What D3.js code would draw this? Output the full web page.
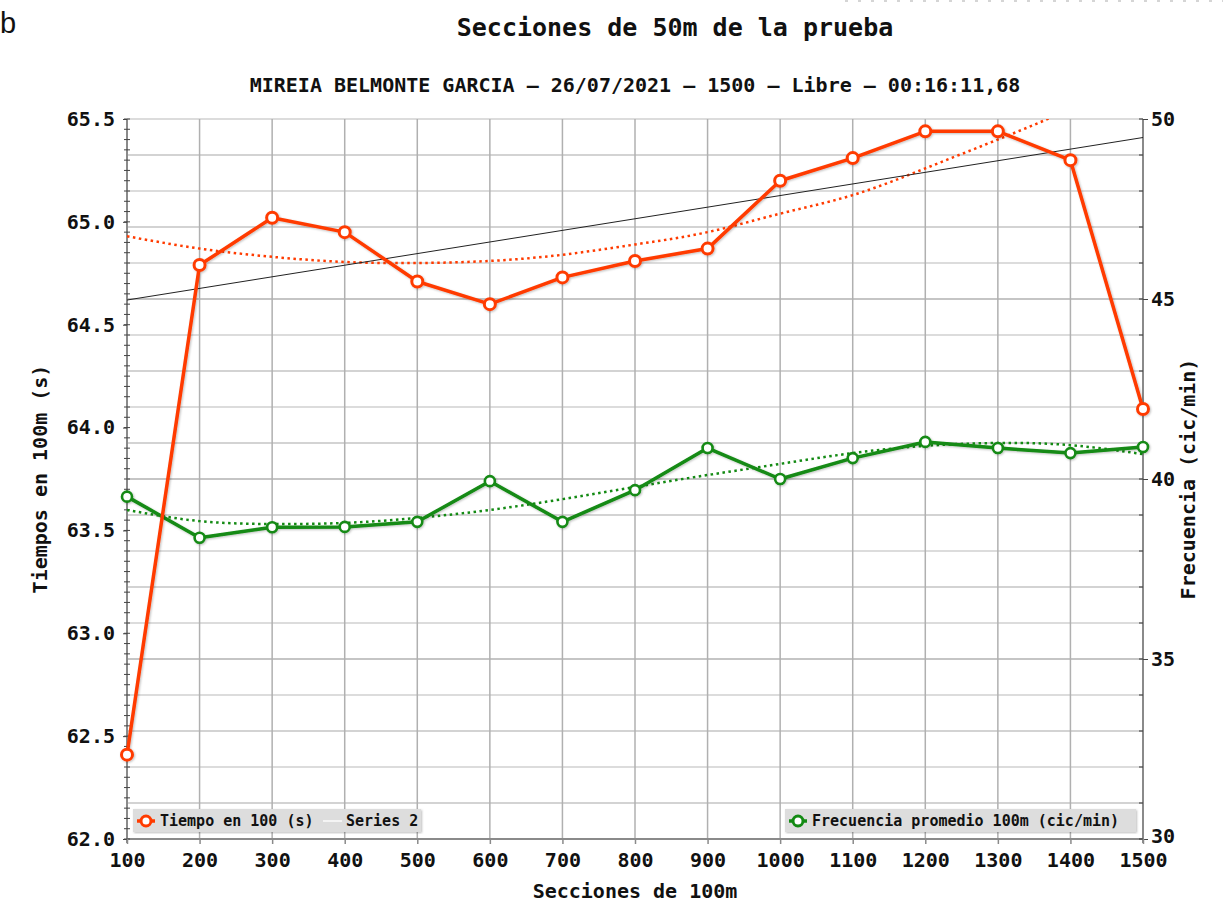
<!DOCTYPE html>
<html>
<head>
<meta charset="utf-8">
<script src="https://cdn.jsdelivr.net/npm/d3@7"></script>
<style>
body { margin: 0; background: #fff; }
svg { display: block; }
</style>
</head>
<body>
<div id="chart"></div>
<script>
// data
const sections = [100, 200, 300, 400, 500, 600, 700, 800, 900, 1000, 1100, 1200, 1300, 1400, 1500];
const tiempo = [62.41, 64.79, 65.02, 64.95, 64.71, 64.60, 64.73, 64.81, 64.87, 65.20, 65.31, 65.44, 65.44, 65.30, 64.09];
const frecuencia = [39.51, 38.37, 38.66, 38.67, 38.81, 39.94, 38.81, 39.69, 40.86, 40.00, 40.58, 41.03, 40.86, 40.72, 40.89];
const tiempoTrend = [64.93, 64.87, 64.83, 64.805, 64.80, 64.81, 64.84, 64.89, 64.95, 65.04, 65.13, 65.26, 65.40, 65.55, 65.73];
const frecuenciaTrend = [39.14, 38.83, 38.75, 38.78, 38.92, 39.14, 39.44, 39.78, 40.11, 40.42, 40.72, 40.92, 41.00, 40.94, 40.69];
const series2X = [100, 1500];
const series2 = [64.62, 65.41];
const leftTicks = [62.0, 62.5, 63.0, 63.5, 64.0, 64.5, 65.0, 65.5];
const rightTicks = [30, 35, 40, 45, 50];

const title = "Secciones de 50m de la prueba";
const subtitle = "MIREIA BELMONTE GARCIA \u2014 26/07/2021 \u2014 1500 \u2014 Libre \u2014 00:16:11,68";

const width = 1223;
const height = 907;
const plot = { left: 127, right: 1143, top: 119, bottom: 839 };
const mono = "'DejaVu Sans Mono', monospace";
const red = "#ff3b00";
const green = "#138a13";

const svg = d3.select("#chart").append("svg")
    .attr("width", width)
    .attr("height", height);

const xScale = d3.scaleLinear().domain([100, 1500]).range([plot.left, plot.right]);
const yLeft = d3.scaleLinear().domain([62, 65.5]).range([plot.bottom, plot.top]);
const yRight = d3.scaleLinear().domain([30, 50]).range([plot.bottom, plot.top]);

const defs = svg.append("defs");
defs.append("clipPath").attr("id", "plot-clip")
    .append("rect")
    .attr("x", plot.left).attr("y", plot.top)
    .attr("width", plot.right - plot.left).attr("height", plot.bottom - plot.top);
const shadow = defs.append("filter").attr("id", "shadow")
    .attr("x", "-5%").attr("y", "-5%").attr("width", "110%").attr("height", "110%");
shadow.append("feDropShadow")
    .attr("dx", 1).attr("dy", 1).attr("stdDeviation", 1.2)
    .attr("flood-color", "#000").attr("flood-opacity", 0.25);

// faint marks on the top edge
svg.append("line")
    .attr("x1", 845).attr("x2", width).attr("y1", 1).attr("y2", 1)
    .attr("stroke", "#c8c8c8").attr("stroke-width", 1.5)
    .attr("stroke-dasharray", "3,10");

// horizontal grid from the right axis units
const hGrid = d3.range(31, 51);
svg.append("g").selectAll("line")
    .data(hGrid)
    .enter().append("line")
    .attr("x1", plot.left).attr("x2", plot.right)
    .attr("y1", d => yRight(d)).attr("y2", d => yRight(d))
    .attr("stroke", d => d % 5 === 0 && d !== 50 ? "#8c8c8c" : (d % 2 === 1 ? "#a8a8a8" : "#dcdcdc"))
    .attr("stroke-width", d => (d % 2 === 1 || d === 40) ? 1.2 : 2.2);

// vertical grid
svg.append("g").selectAll("line")
    .data(sections.slice(1, -1))
    .enter().append("line")
    .attr("x1", d => xScale(d)).attr("x2", d => xScale(d))
    .attr("y1", plot.top).attr("y2", plot.bottom)
    .attr("stroke", "#b0b0b0")
    .attr("stroke-width", 1.5);

// axis lines
svg.append("line")
    .attr("x1", plot.left).attr("x2", plot.left).attr("y1", plot.top).attr("y2", plot.bottom + 4)
    .attr("stroke", "#8a8a8a").attr("stroke-width", 2);
svg.append("line")
    .attr("x1", plot.right).attr("x2", plot.right).attr("y1", plot.top).attr("y2", plot.bottom + 4)
    .attr("stroke", "#8a8a8a").attr("stroke-width", 2);
svg.append("line")
    .attr("x1", plot.left).attr("x2", plot.right).attr("y1", plot.bottom).attr("y2", plot.bottom)
    .attr("stroke", "#8a8a8a").attr("stroke-width", 2);

// left axis
const leftAxis = svg.append("g")
    .attr("transform", `translate(${plot.left},0)`)
    .call(d3.axisLeft(yLeft).tickValues(leftTicks).tickFormat(d3.format(".1f")).tickSize(4).tickPadding(8));
leftAxis.select(".domain").remove();
leftAxis.selectAll("line").attr("stroke", "#444");
leftAxis.selectAll("text")
    .attr("font-family", mono).attr("font-weight", "bold").attr("font-size", 20).attr("fill", "#111");
svg.append("g").selectAll("line")
    .data(d3.range(0, 71).map(i => 62 + i * 0.05))
    .enter().append("line")
    .attr("x1", plot.left - 3).attr("x2", plot.left + 3)
    .attr("y1", d => yLeft(d)).attr("y2", d => yLeft(d))
    .attr("stroke", "#444").attr("stroke-width", 1);

// right axis
const rightAxis = svg.append("g")
    .attr("transform", `translate(${plot.right},0)`)
    .call(d3.axisRight(yRight).tickValues(rightTicks).tickSize(5).tickPadding(3));
rightAxis.select(".domain").remove();
rightAxis.selectAll("line").attr("stroke", "#444");
rightAxis.selectAll("text")
    .attr("font-family", mono).attr("font-weight", "bold").attr("font-size", 20).attr("fill", "#111")
    .attr("y", d => d === 30 ? -3 : 0);
svg.append("g").selectAll("line")
    .data(d3.range(30, 51))
    .enter().append("line")
    .attr("x1", plot.right - 4).attr("x2", plot.right)
    .attr("y1", d => yRight(d)).attr("y2", d => yRight(d))
    .attr("stroke", "#333").attr("stroke-width", 1);

// bottom axis
const bottomAxis = svg.append("g")
    .attr("transform", `translate(0,${plot.bottom})`)
    .call(d3.axisBottom(xScale).tickValues(sections).tickFormat(d3.format("d")).tickSize(5).tickPadding(9));
bottomAxis.select(".domain").remove();
bottomAxis.selectAll("line").attr("stroke", "#8a8a8a").attr("stroke-width", 1.5);
bottomAxis.selectAll("text")
    .attr("font-family", mono).attr("font-weight", "bold").attr("font-size", 20).attr("fill", "#111");

// trend lines
const trendGroup = svg.append("g").attr("clip-path", "url(#plot-clip)");
trendGroup.append("path")
    .datum(sections.map((s, i) => [s, frecuenciaTrend[i]]))
    .attr("fill", "none")
    .attr("stroke", green)
    .attr("stroke-width", 2.5)
    .attr("stroke-dasharray", "2.5,3.5")
    .attr("d", d3.line().x(d => xScale(d[0])).y(d => yRight(d[1])).curve(d3.curveNatural));
trendGroup.append("path")
    .datum(sections.map((s, i) => [s, tiempoTrend[i]]))
    .attr("fill", "none")
    .attr("stroke", red)
    .attr("stroke-width", 2.5)
    .attr("stroke-dasharray", "2.5,3.5")
    .attr("d", d3.line().x(d => xScale(d[0])).y(d => yLeft(d[1])).curve(d3.curveNatural));
trendGroup.append("path")
    .datum(series2X.map((s, i) => [s, series2[i]]))
    .attr("fill", "none")
    .attr("stroke", "#222")
    .attr("stroke-width", 1)
    .attr("d", d3.line().x(d => xScale(d[0])).y(d => yLeft(d[1])));

// frecuencia series (right axis)
const greenG = svg.append("g").attr("filter", "url(#shadow)");
greenG.append("path")
    .datum(sections.map((s, i) => [s, frecuencia[i]]))
    .attr("fill", "none")
    .attr("stroke", green)
    .attr("stroke-width", 3.5)
    .attr("stroke-linejoin", "round")
    .attr("d", d3.line().x(d => xScale(d[0])).y(d => yRight(d[1])));
greenG.selectAll("circle")
    .data(sections.map((s, i) => [s, frecuencia[i]]))
    .enter().append("circle")
    .attr("cx", d => xScale(d[0]))
    .attr("cy", d => yRight(d[1]))
    .attr("r", 5)
    .attr("fill", "#fff")
    .attr("stroke", green)
    .attr("stroke-width", 2.6);

// tiempo series (left axis)
const redG = svg.append("g").attr("filter", "url(#shadow)");
redG.append("path")
    .datum(sections.map((s, i) => [s, tiempo[i]]))
    .attr("fill", "none")
    .attr("stroke", red)
    .attr("stroke-width", 3.5)
    .attr("stroke-linejoin", "round")
    .attr("d", d3.line().x(d => xScale(d[0])).y(d => yLeft(d[1])));
redG.selectAll("circle")
    .data(sections.map((s, i) => [s, tiempo[i]]))
    .enter().append("circle")
    .attr("cx", d => xScale(d[0]))
    .attr("cy", d => yLeft(d[1]))
    .attr("r", 5.5)
    .attr("fill", "#fff")
    .attr("stroke", red)
    .attr("stroke-width", 3);

// legends
function legendBox(x, w) {
    svg.append("rect")
        .attr("x", x).attr("y", 809)
        .attr("width", w).attr("height", 23)
        .attr("fill", "#dddddd")
        .attr("filter", "url(#shadow)");
}
function legendMarker(cx, color) {
    svg.append("line")
        .attr("x1", cx - 9).attr("x2", cx + 9).attr("y1", 821).attr("y2", 821)
        .attr("stroke", color).attr("stroke-width", 3.5);
    svg.append("circle")
        .attr("cx", cx).attr("cy", 821).attr("r", 5)
        .attr("fill", "#fff").attr("stroke", color).attr("stroke-width", 3);
}
function legendText(x, txt) {
    svg.append("text")
        .attr("x", x).attr("y", 821)
        .attr("dominant-baseline", "central")
        .attr("font-family", mono).attr("font-weight", "bold").attr("font-size", 15)
        .attr("fill", "#111")
        .text(txt);
}
legendBox(133, 288);
legendMarker(146, red);
legendText(160, "Tiempo en 100 (s)");
svg.append("line")
    .attr("x1", 323).attr("x2", 342).attr("y1", 821).attr("y2", 821)
    .attr("stroke", "#f4f4f4").attr("stroke-width", 2);
legendText(346, "Series 2");

legendBox(785, 351);
legendMarker(798, green);
legendText(812, "Frecuencia promedio 100m (cic/min)");

// titles
svg.append("text")
    .attr("x", 0).attr("y", 33)
    .attr("font-family", "'Liberation Sans', Arial, sans-serif")
    .attr("font-size", 29)
    .attr("fill", "#111")
    .text("b");
svg.append("text")
    .attr("x", 675).attr("y", 36)
    .attr("text-anchor", "middle")
    .attr("font-family", mono).attr("font-weight", "bold").attr("font-size", 25)
    .attr("fill", "#111")
    .text(title);
svg.append("text")
    .attr("x", 635).attr("y", 92)
    .attr("text-anchor", "middle")
    .attr("font-family", mono).attr("font-weight", "bold").attr("font-size", 20)
    .attr("fill", "#111")
    .text(subtitle);
svg.append("text")
    .attr("x", 635).attr("y", 891)
    .attr("text-anchor", "middle")
    .attr("dominant-baseline", "central")
    .attr("font-family", mono).attr("font-weight", "bold").attr("font-size", 20)
    .attr("fill", "#111")
    .text("Secciones de 100m");
svg.append("text")
    .attr("transform", "translate(40,479) rotate(-90)")
    .attr("text-anchor", "middle")
    .attr("dominant-baseline", "central")
    .attr("font-family", mono).attr("font-weight", "bold").attr("font-size", 20)
    .attr("fill", "#111")
    .text("Tiempos en 100m (s)");
svg.append("text")
    .attr("transform", "translate(1188,479) rotate(-90)")
    .attr("text-anchor", "middle")
    .attr("dominant-baseline", "central")
    .attr("font-family", mono).attr("font-weight", "bold").attr("font-size", 20)
    .attr("fill", "#111")
    .text("Frecuencia (cic/min)");
</script>
</body>
</html>
